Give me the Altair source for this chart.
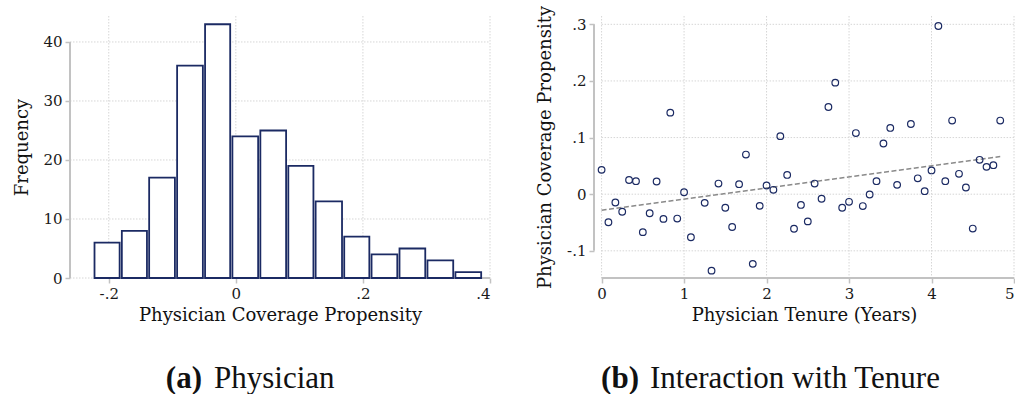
import altair as alt
import pandas as pd

# ---------------- data ----------------
bin_edges = [-0.224, -0.181, -0.138, -0.094, -0.050, -0.007, 0.037, 0.081,
             0.124, 0.169, 0.212, 0.256, 0.300, 0.344, 0.388]
counts = [6, 8, 17, 36, 43, 24, 25, 19, 13, 7, 4, 5, 3, 1]

tenure = [0, 0.083, 0.167, 0.25, 0.333, 0.417, 0.5, 0.583, 0.667, 0.75, 0.833,
          0.917, 1.0, 1.083, 1.25, 1.333, 1.417, 1.5, 1.583, 1.667, 1.75, 1.833,
          1.917, 2.0, 2.083, 2.167, 2.25, 2.333, 2.417, 2.5, 2.583, 2.667, 2.75,
          2.833, 2.917, 3.0, 3.083, 3.167, 3.25, 3.333, 3.417, 3.5, 3.583, 3.75,
          3.833, 3.917, 4.0, 4.083, 4.167, 4.25, 4.333, 4.417, 4.5, 4.583, 4.667,
          4.75, 4.833]
propensity = [0.043, -0.0495, -0.0147, -0.031, 0.025, 0.023, -0.067, -0.0336,
              0.0224, -0.0436, 0.144, -0.043, 0.0035, -0.076, -0.0153, -0.135,
              0.0188, -0.024, -0.058, 0.0177, 0.070, -0.123, -0.0206, 0.0153,
              0.0077, 0.1025, 0.034, -0.061, -0.019, -0.048, 0.0188, -0.008,
              0.154, 0.197, -0.024, -0.0135, 0.108, -0.021, -0.0006, 0.023,
              0.0895, 0.117, 0.0165, 0.124, 0.028, 0.0053, 0.042, 0.297, 0.023,
              0.130, 0.036, 0.0118, -0.0607, 0.0607, 0.0483, 0.0512, 0.130]

fit_x = [0.0, 4.833]
fit_y = [-0.0283, 0.0665]

left_x_ticks = [-0.2, 0.0, 0.2, 0.4]
left_x_labels = ["-.2", "0", ".2", ".4"]
left_y_ticks = [0, 10, 20, 30, 40]
right_x_ticks = [0, 1, 2, 3, 4, 5]
right_y_ticks = [-0.1, 0.0, 0.1, 0.2, 0.3]
right_y_labels = ["-.1", "0", ".1", ".2", ".3"]

captions = [("(a)", "Physician"), ("(b)", "Interaction with Tenure")]

# ---------------- styling ----------------
FONT = "DejaVu Serif"
CAP_FONT = "Liberation Serif"
NAVY = "#1b2a63"
AXIS_GRAY = "#c2c2c2"
GRID_GRAY = "#d6d6d6"
W, H = 420, 262


def label_expr(values, labels):
    parts = [f"abs(datum.value - ({v})) < 1e-9 ? '{l}'" for v, l in zip(values, labels)]
    return " : ".join(parts) + " : ''"


def axis(title, values, labels=None, title_x=None, title_y=None):
    kw = dict(title=title, values=values, domain=False, grid=False, ticks=True,
              tickColor=AXIS_GRAY, tickWidth=1.5, tickSize=5, labelPadding=3,
              labelFont=FONT, labelFontSize=15, labelColor="#1a1a1a",
              titleFont=FONT, titleFontSize=18, titleFontWeight="normal",
              titleColor="#111111", titleBaseline="alphabetic")
    if labels is not None:
        kw["labelExpr"] = label_expr(values, labels)
    if title_x is not None:
        kw["titleX"] = title_x
    if title_y is not None:
        kw["titleY"] = title_y
    return alt.Axis(**kw)


def grid_layers(xs, ys, ax_x, ax_y, xt, yt, full_width_h):
    if full_width_h:
        hg = alt.Chart(pd.DataFrame({"v": yt})).mark_rule(
            color=GRID_GRAY, strokeDash=[1.5, 1.5], strokeWidth=1).encode(
            y=alt.Y("v:Q", scale=ys, axis=ax_y),
            x=alt.value(0), x2=alt.value(W))
    else:
        hdf = pd.DataFrame({"v": yt, "a": [min(xt)] * len(yt), "b": [max(xt)] * len(yt)})
        hg = alt.Chart(hdf).mark_rule(
            color=GRID_GRAY, strokeDash=[1.5, 1.5], strokeWidth=1).encode(
            y=alt.Y("v:Q", scale=ys, axis=ax_y),
            x=alt.X("a:Q", scale=xs, axis=ax_x), x2="b:Q")
    vg = alt.Chart(pd.DataFrame({"v": xt})).mark_rule(
        color=GRID_GRAY, strokeDash=[1.5, 1.5], strokeWidth=1).encode(
        x=alt.X("v:Q", scale=xs, axis=ax_x),
        y=alt.value(0), y2=alt.value(H))
    yline = alt.Chart(pd.DataFrame({"a": [min(yt)], "b": [max(yt)]})).mark_rule(
        color=AXIS_GRAY, strokeWidth=2).encode(
        x=alt.value(0),
        y=alt.Y("a:Q", scale=ys, axis=ax_y), y2="b:Q")
    xline = alt.Chart(pd.DataFrame({"a": [min(xt)], "b": [max(xt)]})).mark_rule(
        color=AXIS_GRAY, strokeWidth=2).encode(
        y=alt.value(H),
        x=alt.X("a:Q", scale=xs, axis=ax_x), x2="b:Q")
    return [hg, vg, yline, xline]


def caption_layers(idx, split_x, gap):
    lab, txt = captions[idx]
    c1 = alt.Chart(pd.DataFrame({"t": [lab]})).mark_text(
        font=CAP_FONT, fontSize=31, fontWeight="bold", align="right",
        baseline="alphabetic", color="#111111").encode(
        x=alt.value(split_x), y=alt.value(372), text="t:N")
    c2 = alt.Chart(pd.DataFrame({"t": [txt]})).mark_text(
        font=CAP_FONT, fontSize=31, fontWeight="normal", align="left",
        baseline="alphabetic", color="#111111").encode(
        x=alt.value(split_x + gap), y=alt.value(372), text="t:N")
    return [c1, c2]


# ---------------- left: histogram ----------------
xs_l = alt.Scale(domain=[-0.261, 0.4], nice=False, zero=False)
ys_l = alt.Scale(domain=[0, 44.4], nice=False, zero=False)
ax_lx = axis("Physician Coverage Propensity", left_x_ticks, left_x_labels, title_y=42)
ax_ly = axis("Frequency", left_y_ticks, title_x=-43)

hist_df = pd.DataFrame({"start": bin_edges[:-1], "end": bin_edges[1:],
                        "count": counts, "base": [0] * len(counts)})

bars = alt.Chart(hist_df).mark_rect(
    fill="white", stroke=NAVY, strokeWidth=1.8, xOffset=1, x2Offset=-1.2).encode(
    x=alt.X("start:Q", scale=xs_l, axis=ax_lx),
    x2="end:Q",
    y=alt.Y("count:Q", scale=ys_l, axis=ax_ly),
    y2="base:Q",
)

left = alt.layer(
    *grid_layers(xs_l, ys_l, ax_lx, ax_ly, left_x_ticks, left_y_ticks, True),
    bars,
    *caption_layers(0, 132, 12),
).properties(width=W, height=H)

# ---------------- right: scatter ----------------
xs_r = alt.Scale(domain=[-0.092, 5.0], nice=False, zero=False)
ys_r = alt.Scale(domain=[-0.148, 0.3147], nice=False, zero=False)
ax_rx = axis("Physician Tenure (Years)", right_x_ticks, title_y=42)
ax_ry = axis("Physician Coverage Propensity", right_y_ticks, right_y_labels, title_x=-44)

sc_df = pd.DataFrame({"tenure": tenure, "prop": propensity})
fit_df = pd.DataFrame({"tenure": fit_x, "prop": fit_y})

pts = alt.Chart(sc_df).mark_point(
    shape="circle", filled=False, color=NAVY, size=44, strokeWidth=1.2, opacity=1).encode(
    x=alt.X("tenure:Q", scale=xs_r, axis=ax_rx),
    y=alt.Y("prop:Q", scale=ys_r, axis=ax_ry),
)

fit = alt.Chart(fit_df).mark_line(
    color="#8a8a8a", strokeWidth=1.6, strokeDash=[5, 2.5]).encode(
    x=alt.X("tenure:Q", scale=xs_r, axis=ax_rx),
    y=alt.Y("prop:Q", scale=ys_r, axis=ax_ry),
)

right = alt.layer(
    *grid_layers(xs_r, ys_r, ax_rx, ax_ry, right_x_ticks, right_y_ticks, False),
    fit,
    pts,
    *caption_layers(1, 45, 11),
).properties(width=W, height=H)

chart = alt.hconcat(left, right, spacing=104, bounds="flush").configure_view(
    stroke=None).properties(padding={"left": 13, "top": 5, "right": 0, "bottom": 0})

chart.save("out.html", embed_options={"renderer": "svg", "actions": False})
